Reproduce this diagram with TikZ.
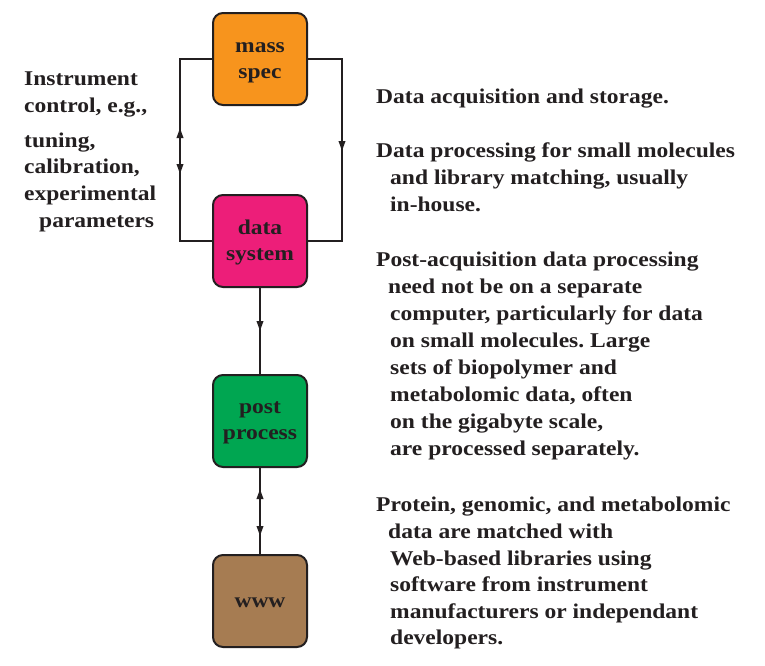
\documentclass[tikz,border=0pt]{standalone}
\usepackage{fontspec}
\setmainfont[FakeStretch=1.12]{Liberation Serif}
\usetikzlibrary{arrows.meta,decorations.markings}
\frenchspacing
\definecolor{ink}{HTML}{231F20}
\definecolor{msorange}{HTML}{F7941D}
\definecolor{dspink}{HTML}{ED1E79}
\definecolor{ppgreen}{HTML}{00A651}
\definecolor{wwwbrown}{HTML}{A67C52}
\tikzset{
  box/.style={draw=ink, line width=2pt, rounded corners=10pt, minimum width=94pt, minimum height=92pt, inner sep=0pt},
  boxtext/.style={align=center, text=ink, font=\fontsize{21}{26}\selectfont\bfseries, inner sep=0pt},
  conn/.style={draw=ink, line width=2pt},
  txt/.style={anchor=base west, inner sep=0pt, text=ink, font=\fontsize{21}{27}\selectfont\bfseries},
  tipdown/.style={postaction={decorate, decoration={markings, mark=at position #1 with {\arrow{Triangle[length=10pt,width=6.5pt]}}}}},
  tipup/.style={postaction={decorate, decoration={markings, mark=at position #1 with {\arrow{Triangle[length=10pt,width=6.5pt,reversed]}}}}},
}
\begin{document}
\begin{tikzpicture}[x=1pt,y=-1pt]
\useasboundingbox (0,0) rectangle (765,665);
\fill[white] (0,0) rectangle (765,665);
% boxes
\node[box, fill=msorange, label={[boxtext, yshift=-4pt]center:{mass\\spec}}] (ms) at (260,59) {};
\node[box, fill=dspink, label={[boxtext, yshift=-1pt]center:{data\\system}}] (ds) at (260,241) {};
\node[box, fill=ppgreen, label={[boxtext, yshift=-2pt]center:{post\\process}}] (pp) at (260,421) {};
\node[box, fill=wwwbrown, label={[boxtext, yshift=-2pt]center:{www}}] (www) at (260,601) {};
% connectors
\draw[conn, tipup=111pt, tipdown=147pt] (ms.west) -- ++(-32,0) |- (ds.west);
\draw[conn, tipdown=126pt] (ms.east) -- ++(34,0) |- (ds.east);
\draw[conn, tipdown=43pt] (ds.south) -- (pp.north);
\draw[conn, tipup=31pt, tipdown=68pt] (pp.south) -- (www.north);
% left text
\node[txt] (l1) at (24,85) {Instrument};
\node[txt] (l2) at (24,112) {control, e.g.,};
\node[txt] (l3) at (24,147) {tuning,};
\node[txt] (l4) at (24,173) {calibration,};
\node[txt] (l5) at (24,200) {experimental};
\node[txt] (l6) at (39,227) {parameters};
% right text
\node[txt] (a1) at (376,103) {Data acquisition and storage.};
\node[txt] (b1) at (376,157) {Data processing for small molecules};
\node[txt] (b2) at (390,184) {and library matching, usually};
\node[txt] (b3) at (390,211) {in-house.};
\node[txt] (c1) at (376,266) {Post-acquisition data processing};
\node[txt] (c2) at (388,293) {need not be on a separate};
\node[txt] (c3) at (390,320) {computer, particularly for data};
\node[txt] (c4) at (390,347) {on small molecules. Large};
\node[txt] (c5) at (390,374) {sets of biopolymer and};
\node[txt] (c6) at (390,401) {metabolomic data, often};
\node[txt] (c7) at (390,428) {on the gigabyte scale,};
\node[txt] (c8) at (390,455) {are processed separately.};
\node[txt] (d1) at (376,511) {Protein, genomic, and metabolomic};
\node[txt] (d2) at (388,538) {data are matched with};
\node[txt] (d3) at (390,565) {Web-based libraries using};
\node[txt] (d4) at (390,591) {software from instrument};
\node[txt] (d5) at (390,618) {manufacturers or independant};
\node[txt] (d6) at (390,644) {developers.};
\end{tikzpicture}
\end{document}
